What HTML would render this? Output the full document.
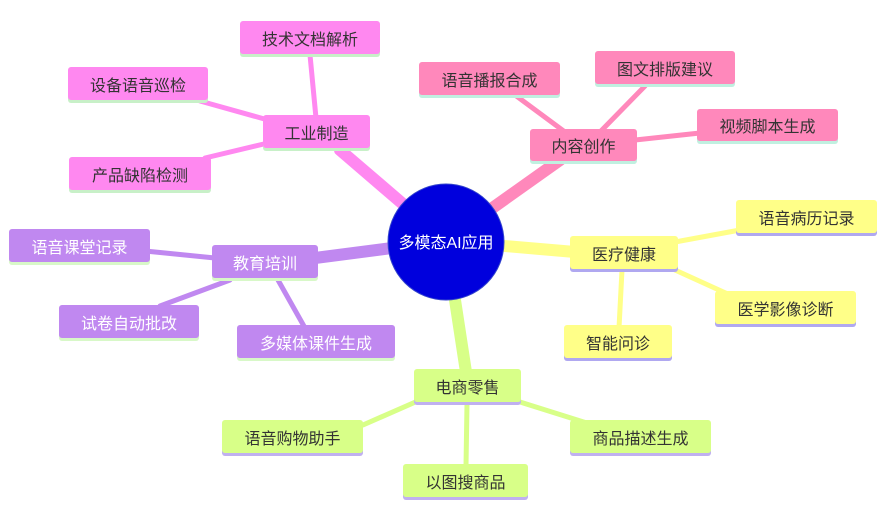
<!DOCTYPE html>
<html><head><meta charset="utf-8"><style>
body{margin:0;width:884px;height:506px;background:#fff;position:relative;overflow:hidden;font-family:"Liberation Sans","Noto Sans CJK SC",sans-serif}
.b{position:absolute;display:flex;align-items:center;justify-content:center;font-size:16px;color:#333;border-radius:3px;box-sizing:border-box}
.i{background:#ff88f0;box-shadow:0 3px 0 #c8f0c8}
.c{background:#ff88bb;box-shadow:0 3px 0 #c0f0e0}
.y{background:#ffff88;box-shadow:0 3px 0 #b0a8f0}
.p{background:#c088f0;color:#fff;box-shadow:0 3px 0 #d8f8c8}
.g{background:#d8ff88;box-shadow:0 3px 0 #c0b0f0}
svg{position:absolute;left:0;top:0}
</style></head><body>
<svg width="884" height="506" stroke-linecap="round">
<g stroke="#ff88f0">
<line x1="446" y1="241" x2="340" y2="150" stroke-width="12"/>
<line x1="310" y1="55" x2="316" y2="118" stroke-width="5"/>
<line x1="200" y1="101" x2="268" y2="120" stroke-width="5"/>
<line x1="205" y1="158" x2="268" y2="143" stroke-width="5"/>
</g>
<g stroke="#ff88bb">
<line x1="446" y1="241" x2="560" y2="160" stroke-width="12"/>
<line x1="515" y1="95" x2="565" y2="132" stroke-width="5"/>
<line x1="645" y1="86" x2="600" y2="132" stroke-width="5"/>
<line x1="700" y1="133" x2="635" y2="140" stroke-width="5"/>
</g>
<g stroke="#ffff88">
<line x1="446" y1="241" x2="575" y2="252" stroke-width="12"/>
<line x1="740" y1="230" x2="675" y2="242" stroke-width="5"/>
<line x1="730" y1="295" x2="675" y2="270" stroke-width="5"/>
<line x1="622" y1="270" x2="619" y2="328" stroke-width="5"/>
</g>
<g stroke="#c088f0">
<line x1="446" y1="241" x2="315" y2="258" stroke-width="12"/>
<line x1="145" y1="251" x2="215" y2="258" stroke-width="5"/>
<line x1="160" y1="306" x2="230" y2="280" stroke-width="5"/>
<line x1="278" y1="280" x2="305" y2="328" stroke-width="5"/>
</g>
<g stroke="#d8ff88">
<line x1="446" y1="241" x2="466" y2="372" stroke-width="12"/>
<line x1="363" y1="425" x2="420" y2="400" stroke-width="5"/>
<line x1="520" y1="402" x2="590" y2="424" stroke-width="5"/>
<line x1="467" y1="404" x2="466" y2="466" stroke-width="5"/>
</g>
<circle cx="446" cy="242" r="58" fill="#0000dd" stroke="#3344cc" stroke-width="1"/>
<text x="446" y="248" fill="#fff" font-size="16" text-anchor="middle" font-family="Liberation Sans,Noto Sans CJK SC,sans-serif">多模态AI应用</text>
</svg>
<div class="b i" style="left:240px;top:21px;width:140px;height:33px">技术文档解析</div>
<div class="b i" style="left:68px;top:67px;width:140px;height:33px">设备语音巡检</div>
<div class="b i" style="left:263px;top:115px;width:107px;height:33px">工业制造</div>
<div class="b i" style="left:69px;top:157px;width:142px;height:33px">产品缺陷检测</div>
<div class="b c" style="left:419px;top:62px;width:141px;height:33px">语音播报合成</div>
<div class="b c" style="left:595px;top:51px;width:140px;height:33px">图文排版建议</div>
<div class="b c" style="left:530px;top:129px;width:107px;height:32px">内容创作</div>
<div class="b c" style="left:697px;top:109px;width:141px;height:32px">视频脚本生成</div>
<div class="b y" style="left:736px;top:200px;width:141px;height:33px">语音病历记录</div>
<div class="b y" style="left:570px;top:236px;width:108px;height:33px">医疗健康</div>
<div class="b y" style="left:715px;top:291px;width:141px;height:33px">医学影像诊断</div>
<div class="b y" style="left:564px;top:325px;width:108px;height:33px">智能问诊</div>
<div class="b p" style="left:9px;top:229px;width:141px;height:33px">语音课堂记录</div>
<div class="b p" style="left:212px;top:245px;width:106px;height:33px">教育培训</div>
<div class="b p" style="left:59px;top:305px;width:140px;height:33px">试卷自动批改</div>
<div class="b p" style="left:237px;top:325px;width:158px;height:33px">多媒体课件生成</div>
<div class="b g" style="left:414px;top:369px;width:107px;height:33px">电商零售</div>
<div class="b g" style="left:222px;top:420px;width:141px;height:33px">语音购物助手</div>
<div class="b g" style="left:570px;top:420px;width:141px;height:33px">商品描述生成</div>
<div class="b g" style="left:403px;top:464px;width:125px;height:33px">以图搜商品</div>
</body></html>
